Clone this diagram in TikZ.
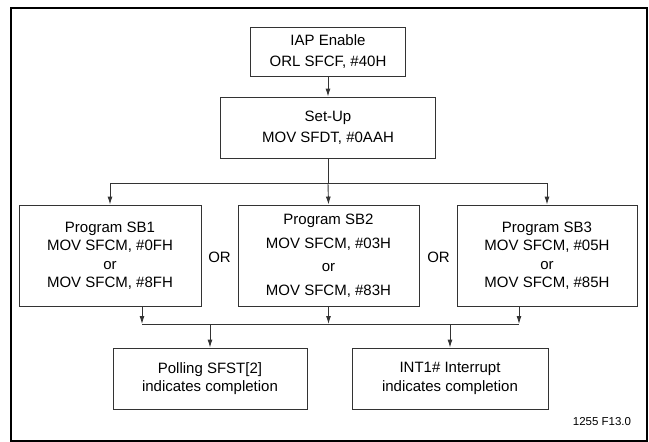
\documentclass[tikz,border=0pt]{standalone}
\usepackage{fontspec}
\setmainfont{Liberation Sans}
\usetikzlibrary{positioning,arrows.meta}

\begin{document}
\begin{tikzpicture}[x=1pt,y=-1pt,font=\fontsize{15}{18.5}\selectfont,
	box/.style={draw=black!80,line width=0.9pt,align=center,inner sep=0pt},
	arr/.style={-{Latex[length=8pt,width=5pt]},line width=0.9pt,draw=black!80}]
	\useasboundingbox (0,0) rectangle (649,442);
	\draw[line width=2pt] (11,8) rectangle (647,441);
	
	\node[box,minimum width=155pt,minimum height=49pt](iap) at (328,51.5){IAP Enable\\[3pt]ORL SFCF, \#40H};
	\node[box,minimum width=215pt,minimum height=61pt](setup) at (328,127.5){Set-Up\\[3pt]MOV SFDT, \#0AAH};
	
	\node[box,minimum width=182pt,minimum height=101pt](sb1) at (110,255.5){Program SB1\\MOV SFCM, \#0FH\\or\\MOV SFCM, \#8FH};
	\node[box,minimum width=181pt,minimum height=101pt](sb2) at (328.5,255.5){Program SB2\\[5pt]MOV SFCM, \#03H\\[5pt]or\\[5pt]MOV SFCM, \#83H};
	\node[box,minimum width=180pt,minimum height=101pt](sb3) at (547,255.5){Program SB3\\MOV SFCM, \#05H\\or\\MOV SFCM, \#85H};
	\node(or1) at (219.5,257){OR};
	\node(or2) at (438.5,257){OR};
	
	\node[box,minimum width=194pt,minimum height=61pt](poll) at (210,378.5){Polling SFST[2]\\indicates completion};
	\node[box,minimum width=196pt,minimum height=61pt](int) at (450,378.5){INT1\# Interrupt\\indicates completion};
	\node[font=\fontsize{11.5}{14}\selectfont](fig) at (602,422){1255 F13.0};
	
	\coordinate (fork) at (328,183);
	\coordinate (join1) at (142,324);
	\coordinate (join3) at (519,324);
	
	\draw[arr] (iap) -- (setup);
	\draw[line width=0.9pt,draw=black!80] (setup.south) -- (fork);
	\draw[arr] (fork) -| (sb1.north);
	\draw[arr] (fork) -- (sb2.north);
	\draw[arr] (fork) -| (sb3.north);
	
	\draw[arr] (sb1.south -| join1) -- (join1);
	\draw[arr] (sb2.south) -- (sb2.south |- join1);
	\draw[arr] (sb3.south -| join3) -- (join3);
	\draw[line width=0.9pt,draw=black!80] (join1) -- (join3);
	\draw[arr] (join1 -| poll.north) -- (poll.north);
	\draw[arr] (join1 -| int.north) -- (int.north);
\end{tikzpicture}
\end{document}
